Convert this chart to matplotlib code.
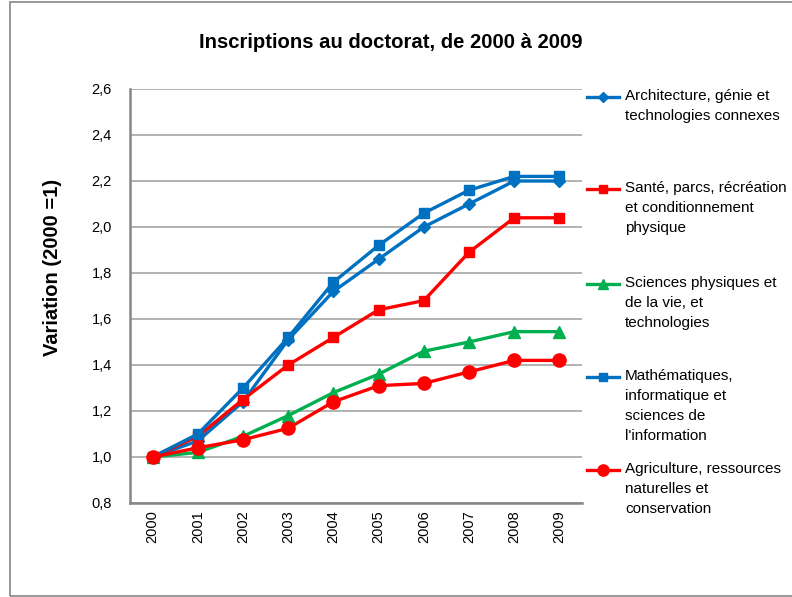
import matplotlib.pyplot as plt
from matplotlib.lines import Line2D
from matplotlib.patches import Rectangle
from matplotlib.ticker import FuncFormatter

plt.rcParams['font.family'] = ['Liberation Sans', 'DejaVu Sans']

years = ['2000', '2001', '2002', '2003', '2004', '2005', '2006', '2007', '2008', '2009']

archi = [1.00, 1.07, 1.24, 1.51, 1.72, 1.86, 2.00, 2.10, 2.20, 2.20]
sante = [1.00, 1.09, 1.25, 1.40, 1.52, 1.64, 1.68, 1.89, 2.04, 2.04]
sciences = [1.00, 1.02, 1.09, 1.18, 1.28, 1.36, 1.46, 1.50, 1.545, 1.545]
maths = [1.00, 1.10, 1.30, 1.52, 1.76, 1.92, 2.06, 2.16, 2.22, 2.22]
agri = [1.00, 1.04, 1.075, 1.125, 1.24, 1.31, 1.32, 1.37, 1.42, 1.42]

labels = ['Architecture, génie et\ntechnologies connexes',
          'Santé, parcs, récréation\net conditionnement\nphysique',
          'Sciences physiques et\nde la vie, et\ntechnologies',
          'Mathématiques,\ninformatique et\nsciences de\nl\'information',
          'Agriculture, ressources\nnaturelles et\nconservation']

blue = '#0070C0'
red = '#FF0000'
green = '#00B050'

series = [
    (archi, blue, 'D', 6.5),
    (sante, red, 's', 7.5),
    (sciences, green, '^', 9),
    (maths, blue, 's', 7.5),
    (agri, red, 'o', 9.5),
]

fig = plt.figure(figsize=(7.92, 5.97), dpi=100)
ax = fig.add_axes([130/792, 1-503/597, 452/792, 414/597])

x = list(range(len(years)))
for vals, col, mk, ms in series:
    ax.plot(x, vals, color=col, lw=2.4, marker=mk, markersize=ms,
            markeredgecolor=col, markerfacecolor=col, zorder=3)

ax.set_xlim(-0.5, len(years) - 0.5)
ax.set_ylim(0.8, 2.6)
ax.set_yticks([0.8 + 0.2*i for i in range(10)])
ax.yaxis.set_major_formatter(FuncFormatter(lambda v, p: f'{v:.1f}'.replace('.', ',')))
ax.set_xticks(x)
ax.set_xticklabels(years, rotation=90)
ax.tick_params(axis='both', length=0, labelsize=10.5, colors='black')
ax.tick_params(axis='y', pad=13)
ax.tick_params(axis='x', pad=5)

ax.grid(axis='y', color='#A6A6A6', lw=1.2, zorder=0)
ax.set_axisbelow(True)
for s in ['top', 'right']:
    ax.spines[s].set_visible(False)
for s in ['left', 'bottom']:
    ax.spines[s].set_color('#868686')
    ax.spines[s].set_linewidth(1.8)

fig.text(391/792, 1-42/597, 'Inscriptions au doctorat, de 2000 à 2009',
         ha='center', va='center', fontsize=14.6, fontweight='bold')
fig.text(52/792, 1-267/597, 'Variation (2000 =1)', rotation=90,
         ha='center', va='center', fontsize=14.5, fontweight='bold')

# legend entries, handle aligned with first line of each label
tops = [98, 190, 285, 378, 471]
for (vals, col, mk, ms), lab, ty in zip(series, labels, tops):
    h = Line2D([], [], color=col, lw=2.4, marker=mk, markersize=ms*0.85,
               markeredgecolor=col, markerfacecolor=col)
    fig.legend(handles=[h], labels=[''], loc='center left',
               bbox_to_anchor=(587/792, 1-ty/597), frameon=False,
               handlelength=2.3, borderpad=0, borderaxespad=0, handletextpad=0)
    fig.text(625/792, 1-(ty-9)/597, lab, ha='left', va='top',
             fontsize=11, linespacing=1.55)

fig.add_artist(Rectangle((10/792, 1/597), 1.0, 594/597, transform=fig.transFigure,
                         fill=False, edgecolor='#868686', lw=1.2))

fig.savefig('out.png', dpi=100)
